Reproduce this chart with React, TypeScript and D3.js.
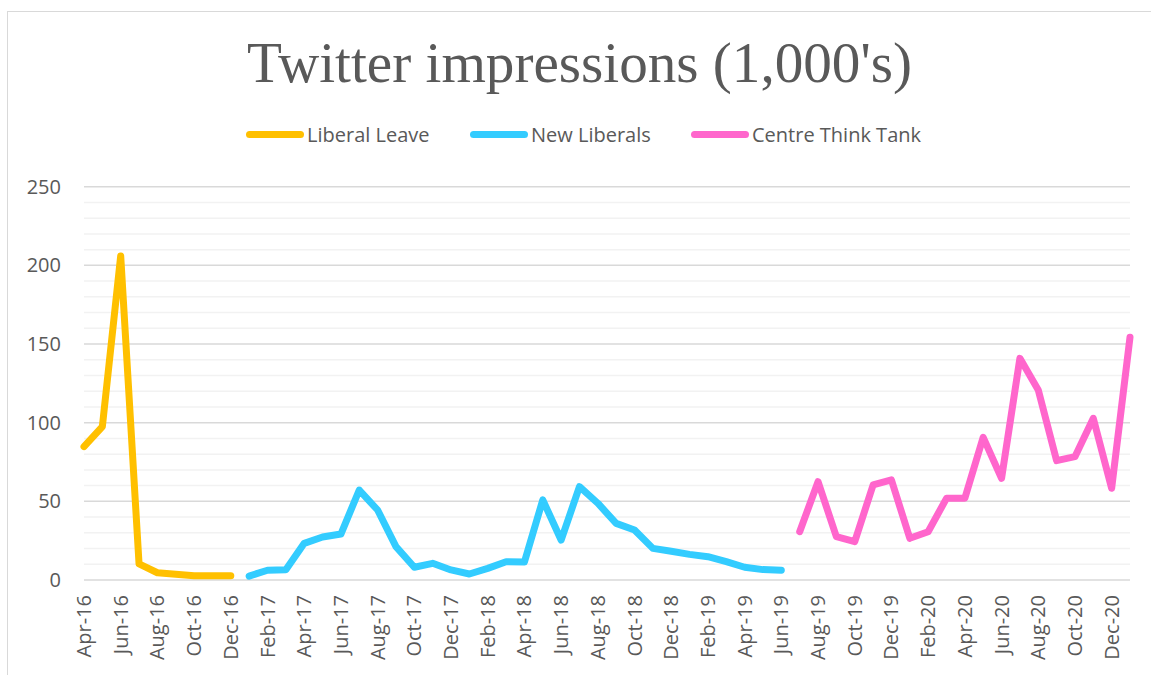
import { useEffect, useRef } from "react";
import * as d3 from "d3";

// monthly categories, Apr-16 .. Jan-21
const months = d3
  .timeMonths(new Date(2016, 3, 1), new Date(2021, 1, 1))
  .map((date) => d3.timeFormat("%b-%y")(date));

const liberalLeave = [84.8, 97.5, 206, 10.2, 4.6, 3.7, 2.7, 2.7, 2.7];
const newLiberals = [
  2.5, 6.2, 6.5, 23.3, 27.3, 29.2, 57.2, 44.5, 21.2, 8.1, 10.6, 6.4,
  3.8, 7.4, 11.6, 11.4, 50.9, 25.4, 59.3, 48.8, 36, 31.8, 20.1, 18.3,
  16.3, 14.8, 11.7, 8.1, 6.6, 6.2,
];
const centreThinkTank = [
  30.7, 62.5, 27.5, 24.4, 60.4, 63.6, 26.5, 30.7, 51.9, 51.9, 90.7, 64.6,
  140.9, 120.8, 75.9, 78.4, 102.8, 58.3, 154.3,
];

const seriesNames = ["Liberal Leave", "New Liberals", "Centre Think Tank"];
const seriesColors = ["#FFC000", "#33CCFF", "#FF66CC"];
const seriesStart = ["Apr-16", "Jan-17", "Jul-19"];
const seriesValues = [liberalLeave, newLiberals, centreThinkTank];

const yMajorTicks = [0, 50, 100, 150, 200, 250];
const yMinorTicks = d3.range(0, 251, 10);

const width = 1151;
const height = 675;
const plotLeft = 84;
const plotRight = 1130;
const plotTop = 186.7;
const plotBottom = 580;

const textColor = "#595959";
const sansFont = "'Open Sans', sans-serif";

type Point = { label: string; value: number };

export default function App() {
  const legendRef = useRef<SVGGElement | null>(null);

  const x = d3.scalePoint<string>().domain(months).range([plotLeft, plotRight]);
  const y = d3.scaleLinear().domain([0, 250]).range([plotBottom, plotTop]);

  const line = d3
    .line<Point>()
    .x((d) => x(d.label) ?? 0)
    .y((d) => y(d.value));

  const series = seriesValues.map((values, i) => {
    const start = months.indexOf(seriesStart[i]);
    const points = values.map((value, j) => ({ label: months[start + j], value }));
    return { name: seriesNames[i], color: seriesColors[i], points };
  });

  const tickLabels = months.filter((_, i) => i % 2 === 0);

  useEffect(() => {
    const g = legendRef.current;
    if (!g) return;
    g.innerHTML = "";
    const legend = d3.select(g);
    const starts = [246, 470, 691];
    series.forEach((s, i) => {
      legend
        .append("line")
        .attr("x1", starts[i] + 3.5)
        .attr("x2", starts[i] + 54.5)
        .attr("y1", 134.6)
        .attr("y2", 134.6)
        .attr("stroke", s.color)
        .attr("stroke-width", 7)
        .attr("stroke-linecap", "round");
      legend
        .append("text")
        .attr("x", starts[i] + 61)
        .attr("y", 134.6)
        .attr("dy", "0.35em")
        .attr("font-family", sansFont)
        .attr("font-size", 20)
        .attr("fill", textColor)
        .text(s.name);
    });
  }, []);

  return (
    <svg
      width={width}
      height={height}
      style={{ position: "absolute", left: 0, top: 0, background: "#fff" }}
    >
      <rect x={7.5} y={11.5} width={1160} height={700} fill="#fff" stroke="#d9d9d9" />

      <text
        x={579.5}
        y={82}
        textAnchor="middle"
        fontFamily="'Liberation Serif', serif"
        fontSize={56}
        textLength={665}
        lengthAdjust="spacingAndGlyphs"
        fill={textColor}
      >
        Twitter impressions (1,000's)
      </text>

      <g ref={legendRef} />

      <g>
        {yMinorTicks
          .filter((t) => t % 50 !== 0)
          .map((t) => (
            <line key={`m${t}`} x1={plotLeft} x2={plotRight} y1={y(t)} y2={y(t)} stroke="#f2f2f2" strokeWidth={1.5} />
          ))}
        {yMajorTicks.map((t) => (
          <line key={`M${t}`} x1={plotLeft} x2={plotRight} y1={y(t)} y2={y(t)} stroke="#d9d9d9" strokeWidth={1.5} />
        ))}
      </g>

      <g fontFamily={sansFont} fontSize={20} fill={textColor}>
        {yMajorTicks.map((t) => (
          <text key={t} x={61} y={y(t)} dy="0.35em" textAnchor="end">
            {t}
          </text>
        ))}
        {tickLabels.map((label) => (
          <text
            key={label}
            transform={`translate(${x(label)},595) rotate(-90)`}
            dy="0.35em"
            textAnchor="end"
          >
            {label}
          </text>
        ))}
      </g>

      <g fill="none" strokeWidth={7} strokeLinecap="round" strokeLinejoin="round">
        {series.map((s) => (
          <path key={s.name} d={line(s.points) ?? ""} stroke={s.color} />
        ))}
      </g>
    </svg>
  );
}
